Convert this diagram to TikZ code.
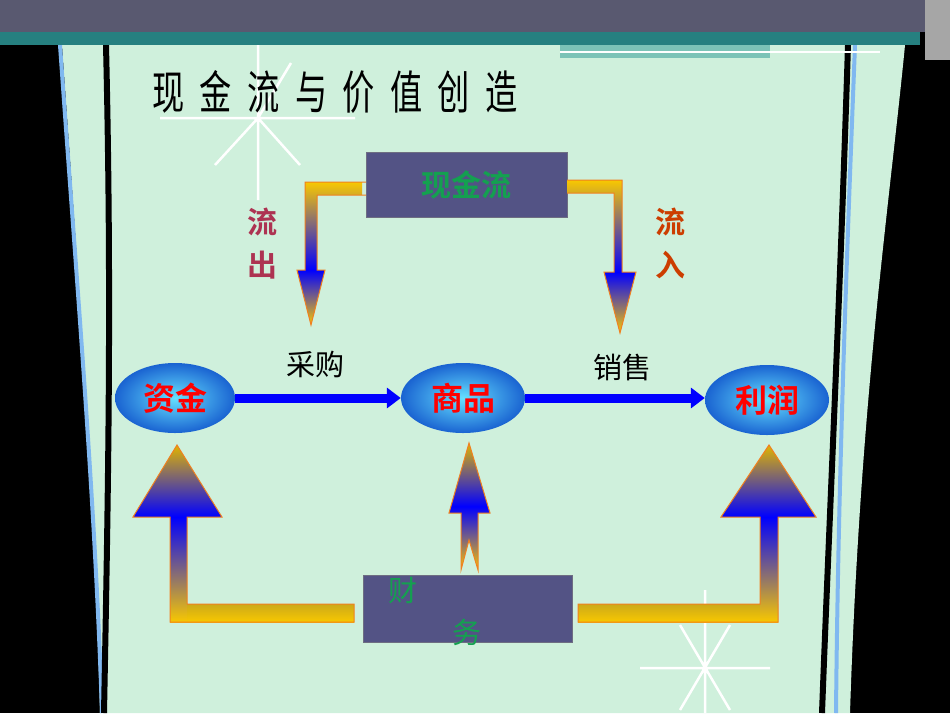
\documentclass[tikz,border=0pt]{standalone}
\usepackage{fontspec}
\setmainfont{Noto Sans CJK SC}
\newfontfamily\cjkb{Noto Sans CJK SC Bold}
\usetikzlibrary{shapes.geometric,arrows.meta}
\definecolor{mint}{HTML}{CFF0DC}
\definecolor{boxc}{HTML}{535385}
\definecolor{gtxt}{HTML}{14A050}
\definecolor{gold}{HTML}{F8C800}
\definecolor{outl}{HTML}{F08020}
\definecolor{skyb}{HTML}{80B8F0}
\tikzset{
  boxnode/.style={draw=gray!60!boxc,fill=boxc,inner sep=0pt},
  oval/.style={ellipse,minimum width=120pt,minimum height=70pt,inner sep=0pt,
    inner color=blue!20!cyan!60,outer color=blue!60!cyan!80!black!90,draw=none,
    font=\cjkb\fontsize{32}{34}\selectfont,text=red},
  flowarrow/.style={draw=blue,line width=9pt,-{Triangle[length=14pt,width=20pt]},blue},
  lbl/.style={font=\fontsize{29}{31}\selectfont},
  blbl/.style={font=\cjkb\fontsize{30}{32}\selectfont},
  star/.style={white,line width=2.5pt},
  ol/.style={draw=outl,line width=1pt}
}
\begin{document}
\begin{tikzpicture}[x=1pt,y=-1pt]
\useasboundingbox (0,0) rectangle (950,713);
\fill[black] (0,0) rectangle (950,713);
% panel
\fill[mint] (62,45) .. controls (80,300) and (95,500) .. (100,713) -- (850,713) .. controls (860,400) and (890,200) .. (905,45) -- cycle;
\draw[skyb,line width=4pt] (60,45) .. controls (78,300) and (95,500) .. (102,713);
\draw[black,line width=6pt] (106,45) .. controls (112,300) and (108,500) .. (104,713);
\draw[black,line width=6pt] (848,45) .. controls (840,300) and (830,500) .. (822,713);
\draw[skyb,line width=4pt] (855,45) .. controls (845,300) and (838,500) .. (836,713);
% top bars
\fill[black!70!blue!30!gray] (0,0) rectangle (950,32);
\fill[teal!70!gray] (0,32) rectangle (920,45);
\fill[teal!40!mint] (560,45) rectangle (770,58);
\draw[white,line width=1.5pt] (560,52) -- (880,52);
\fill[gray!70] (925,0) rectangle (950,60);
% stars
\draw[star] (258,45) -- (258,200) (160,118) -- (355,118) (258,118) -- (215,165) (258,118) -- (300,165) (258,118) -- (291,63);
\draw[star] (705,590) -- (705,713) (640,668) -- (770,668) (680,625) -- (730,710) (730,625) -- (680,710);
% title
\node[font=\fontsize{46}{50}\selectfont,xscale=0.7] (title) at (335,92) {现\hspace{22pt}金\hspace{22pt}流\hspace{22pt}与\hspace{22pt}价\hspace{22pt}值\hspace{22pt}创\hspace{22pt}造};
% top box
\node[boxnode,minimum width=201pt,minimum height=65pt] (cash) at (466.5,184.5) {};
\node[blbl,text=gtxt] (cashtxt) at (cash.center) {现金流};
% left bent arrow (out)
\shade[top color=gold,bottom color=blue] (362,182) -- (305,182) -- (305,270) -- (317,270) -- (317,195) -- (362,195) -- cycle;
\shade[top color=blue,bottom color=gold] (297,270) -- (325,270) -- (311,325) -- cycle;
\draw[ol] (cash.west |- 0,182) -- (305,182) -- (305,270) -- (297,270) -- (311,325) -- (325,270) -- (317,270) -- (317,195) -- (cash.west |- 0,195);
% right bent arrow (in)
\shade[top color=gold,bottom color=blue] (567,180) -- (622,180) -- (622,272) -- (614,272) -- (614,193) -- (567,193) -- cycle;
\shade[top color=blue,bottom color=gold] (604,272) -- (636,272) -- (620,333) -- cycle;
\draw[ol] (cash.east |- 0,180) -- (622,180) -- (622,272) -- (636,272) -- (620,333) -- (604,272) -- (614,272) -- (614,193) -- (cash.east |- 0,193);
% side labels
\node[blbl,text=violet!40!red!60!gray] (liu1) at (262,222) {流};
\node[blbl,text=violet!40!red!60!gray] (chu) at (262,265) {出};
\node[blbl,text=orange!60!red!80!black] (liu2) at (670,222) {流};
\node[blbl,text=orange!60!red!80!black] (ru) at (670,265) {入};
% ovals
\node[oval] (zj) at (175,398) {资金};
\node[oval,minimum width=124pt] (sp) at (463,398) {商品};
\node[oval,minimum width=124pt] (lr) at (767,400) {利润};
\draw[flowarrow] (zj.east) -- (sp.west);
\draw[flowarrow] (sp.east) -- (lr.west |- sp.east);
\node[lbl] (cg) at (315,364) {采购};
\node[lbl] (xs) at (622,367) {销售};
% bottom box
\node[boxnode,minimum width=209pt,minimum height=67pt] (cw) at (467.5,609) {};
\node[lbl,text=gtxt] (cai) at (403,590) {财};
\node[lbl,text=gtxt] (wu) at (467,632) {务};
% left L arrow
\shade[top color=gold!80!black!90,bottom color=gold] (354,604) -- (170,604) -- (170,622) -- (354,622) -- cycle;
\shade[top color=blue,bottom color=gold] (170,517) rectangle (187,622);
\shade[top color=gold!90!black,bottom color=blue] (133,517) -- (222,517) -- (177,445) -- cycle;
\draw[ol] (354,604) -- (187,604) -- (187,517) -- (222,517) -- (177,445) -- (133,517) -- (170,517) -- (170,622) -- (354,622) -- cycle;
% right L arrow
\shade[top color=gold!80!black!90,bottom color=gold] (578,604) rectangle (778,622);
\shade[top color=blue,bottom color=gold] (760,517) rectangle (778,622);
\shade[top color=gold!90!black,bottom color=blue] (721,517) -- (816,517) -- (769,445) -- cycle;
\draw[ol] (578,604) -- (760,604) -- (760,517) -- (721,517) -- (769,445) -- (816,517) -- (778,517) -- (778,622) -- (578,622) -- cycle;
% middle arrow
\shade[top color=gold!90!black,bottom color=gold,middle color=blue] (469,443) -- (490,513) -- (478,513) -- (478,570) -- (469,540) -- (461,570) -- (461,513) -- (449,513) -- cycle;
\draw[ol] (469,443) -- (490,513) -- (478,513) -- (478,570) -- (469,540) -- (461,570) -- (461,513) -- (449,513) -- cycle;
\end{tikzpicture}
\end{document}
